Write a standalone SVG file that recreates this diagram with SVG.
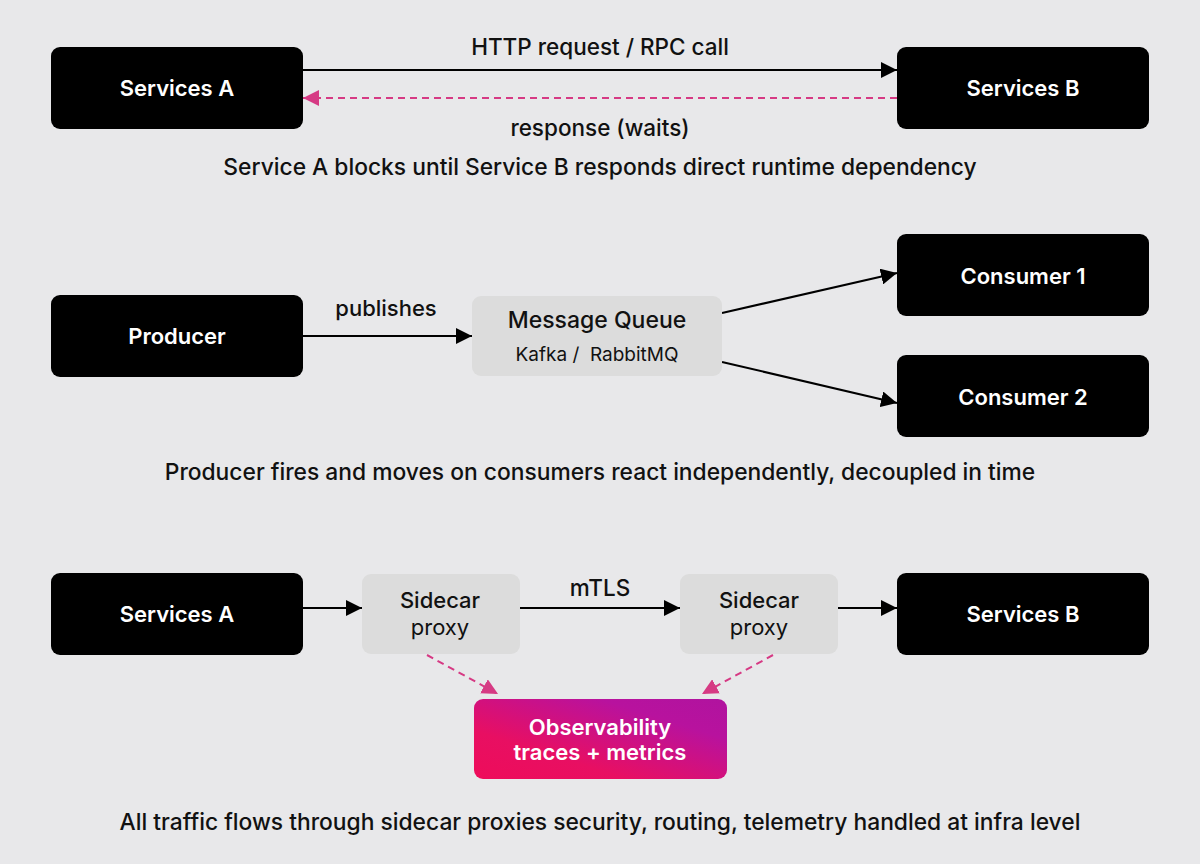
<svg xmlns="http://www.w3.org/2000/svg" width="1200" height="864" viewBox="0 0 1200 864">
  <defs>
    <marker id="ah" viewBox="0 0 10 10" refX="10" refY="5" markerWidth="16" markerHeight="16" markerUnits="userSpaceOnUse" orient="auto">
      <path d="M0,0 L10,5 L0,10 Z" fill="#000"/>
    </marker>
    <marker id="ahp" viewBox="0 0 10 10" refX="10" refY="5" markerWidth="16" markerHeight="16" markerUnits="userSpaceOnUse" orient="auto">
      <path d="M0,0 L10,5 L0,10 Z" fill="#d63a84"/>
    </marker>
    <linearGradient id="obs" x1="0" y1="1" x2="1" y2="0">
      <stop offset="0" stop-color="#ee0c5a"/>
      <stop offset="0.3" stop-color="#e80f62"/>
      <stop offset="0.75" stop-color="#b8129e"/>
      <stop offset="1" stop-color="#b0139f"/>
    </linearGradient>
    <style>
      .blk { fill: #000; }
      .gry { fill: #dcdcdc; }
      .nl { font-family: Inter, "Noto Sans", "Liberation Sans", sans-serif; font-size: 22px; font-weight: 600; fill: #fff; text-anchor: middle; }
      .gl { font-family: Inter, "Noto Sans", "Liberation Sans", sans-serif; font-size: 23px; font-weight: 500; fill: #111; text-anchor: middle; }
      .gs { font-family: Inter, "Noto Sans", "Liberation Sans", sans-serif; font-size: 19px; font-weight: 400; fill: #111; text-anchor: middle; }
      .sc { font-family: Inter, "Noto Sans", "Liberation Sans", sans-serif; font-size: 22px; font-weight: 500; fill: #111; text-anchor: middle; }
      .gp { font-family: Inter, "Noto Sans", "Liberation Sans", sans-serif; font-size: 22px; font-weight: 400; fill: #111; text-anchor: middle; }
      .lbl { font-family: Inter, "Noto Sans", "Liberation Sans", sans-serif; font-size: 22.5px; font-weight: 500; fill: #111; text-anchor: middle; }
      .cap { font-family: Inter, "Noto Sans", "Liberation Sans", sans-serif; font-size: 22.8px; font-weight: 500; fill: #111; text-anchor: middle; }
      .ln { stroke: #000; stroke-width: 2; fill: none; marker-end: url(#ah); }
      .dl { stroke: #d63a84; stroke-width: 2; fill: none; stroke-dasharray: 7 5; marker-end: url(#ahp); }
    </style>
  </defs>
  <rect width="1200" height="864" fill="#e8e8ea"/>

  <g id="connectors">
    <line class="ln" x1="303" y1="70" x2="897" y2="70"/>
    <line class="dl" x1="897" y1="98" x2="303" y2="98"/>
    <line class="ln" x1="303" y1="336" x2="472" y2="336"/>
    <line class="ln" x1="722" y1="313" x2="897" y2="273"/>
    <line class="ln" x1="722" y1="362" x2="897" y2="403"/>
    <line class="ln" x1="303" y1="608" x2="362" y2="608"/>
    <line class="ln" x1="520" y1="608" x2="680" y2="608"/>
    <line class="ln" x1="838" y1="608" x2="897" y2="608"/>
    <line class="dl" x1="427" y1="655" x2="498" y2="694"/>
    <line class="dl" x1="773" y1="655" x2="702" y2="694"/>
    <text class="lbl" x="600" y="55">HTTP request / RPC call</text>
    <text class="lbl" x="600" y="136">response (waits)</text>
    <text class="lbl" x="386" y="316" style="font-size:22px">publishes</text>
    <text class="lbl" x="600" y="596">mTLS</text>
  </g>

  <g id="svcA1"><rect class="blk" x="51" y="47" width="252" height="82" rx="9"/><text class="nl" x="177" y="96">Services A</text></g>
  <g id="svcB1"><rect class="blk" x="897" y="47" width="252" height="82" rx="9"/><text class="nl" x="1023" y="96">Services B</text></g>
  <text class="cap" x="600" y="175">Service A blocks until Service B responds direct runtime dependency</text>

  <g id="producer"><rect class="blk" x="51" y="295" width="252" height="82" rx="9"/><text class="nl" x="177" y="344">Producer</text></g>
  <g id="queue"><rect class="gry" x="472" y="296" width="250" height="80" rx="9"/><text class="gl" x="597" y="328">Message Queue</text><text class="gs" x="597" y="361" xml:space="preserve">Kafka /  RabbitMQ</text></g>
  <g id="consumer1"><rect class="blk" x="897" y="234" width="252" height="82" rx="9"/><text class="nl" x="1023" y="284">Consumer 1</text></g>
  <g id="consumer2"><rect class="blk" x="897" y="355" width="252" height="82" rx="9"/><text class="nl" x="1023" y="405">Consumer 2</text></g>
  <text class="cap" x="600" y="480">Producer fires and moves on consumers react independently, decoupled in time</text>

  <g id="svcA2"><rect class="blk" x="51" y="573" width="252" height="82" rx="9"/><text class="nl" x="177" y="622">Services A</text></g>
  <g id="sidecar1"><rect class="gry" x="362" y="574" width="158" height="80" rx="9"/><text class="sc" x="440" y="608">Sidecar</text><text class="gp" x="440" y="635">proxy</text></g>
  <g id="sidecar2"><rect class="gry" x="680" y="574" width="158" height="80" rx="9"/><text class="sc" x="759" y="608">Sidecar</text><text class="gp" x="759" y="635">proxy</text></g>
  <g id="svcB2"><rect class="blk" x="897" y="573" width="252" height="82" rx="9"/><text class="nl" x="1023" y="622">Services B</text></g>
  <g id="observability"><rect x="474" y="699" width="253" height="80" rx="9" fill="url(#obs)"/><text class="nl" x="600" y="735">Observability</text><text class="nl" x="600" y="760">traces + metrics</text></g>
  <text class="cap" x="600" y="830">All traffic flows through sidecar proxies security, routing, telemetry handled at infra level</text>
</svg>
